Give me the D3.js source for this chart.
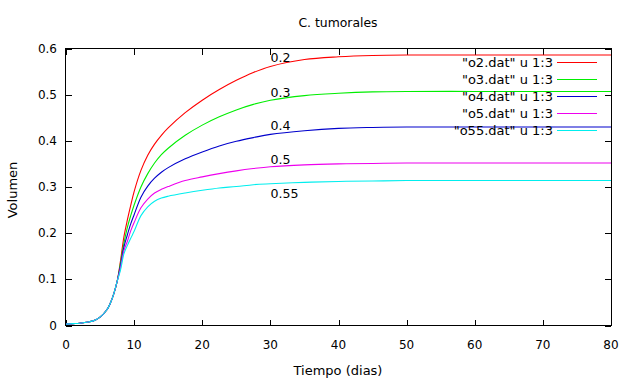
<!DOCTYPE html>
<html><head><meta charset="utf-8">
<script src="https://cdn.jsdelivr.net/npm/d3@7"></script>
<style>
body{margin:0;background:#fff;}
text{font-family:"DejaVu Sans",sans-serif;font-size:12px;fill:#000;}
</style></head>
<body>
<svg id="c" width="629" height="380"></svg>
<script>
const time = [0,1,2,3,4,5,6,6.5,7,7.5,8,8.5,9,9.5,10,11,12,13,14,15,17.5,20,22.5,25,27.5,30,35,40,45,50,60,70,80];
const early = [0.003,0.004,0.005,0.007,0.010,0.018,0.034,0.048,0.068,0.095];
const o2  = early.concat([0.140,0.192,0.228,0.260,0.290,0.336,0.369,0.393,0.412,0.428,0.461,0.488,0.511,0.531,0.548,0.561,0.576,0.582,0.585,0.586,0.586,0.586,0.586]);
const o3  = early.concat([0.135,0.178,0.212,0.238,0.261,0.300,0.329,0.352,0.370,0.384,0.412,0.434,0.452,0.467,0.479,0.488,0.498,0.503,0.506,0.507,0.507,0.507,0.507]);
const o4  = early.concat([0.130,0.170,0.196,0.220,0.240,0.278,0.302,0.319,0.332,0.342,0.361,0.376,0.389,0.399,0.407,0.414,0.422,0.427,0.429,0.430,0.430,0.430,0.430]);
const o5  = early.concat([0.125,0.162,0.182,0.205,0.223,0.255,0.274,0.287,0.295,0.301,0.314,0.322,0.329,0.335,0.340,0.344,0.348,0.350,0.351,0.352,0.352,0.352,0.352]);
const o55 = early.concat([0.120,0.155,0.173,0.189,0.204,0.238,0.257,0.269,0.276,0.280,0.287,0.293,0.298,0.301,0.305,0.307,0.310,0.312,0.313,0.314,0.314,0.314,0.314]);
const seriesNames = ['"o2.dat" u 1:3','"o3.dat" u 1:3','"o4.dat" u 1:3','"o5.dat" u 1:3','"o55.dat" u 1:3'];
const seriesValues = [o2,o3,o4,o5,o55];
const colors = ["#ff0000","#00ee00","#0000cc","#ee00ee","#00eeee"];
const labelTexts = ["0.2","0.3","0.4","0.5","0.55"];
const labelX = [30,30,30,30,30];
const labelY = [0.580,0.505,0.433,0.360,0.285];
const xTicks = [0,10,20,30,40,50,60,70,80];
const yTicks = [0,0.1,0.2,0.3,0.4,0.5,0.6];

const svg = d3.select("#c");
const L=66, R=611, T=48.5, B=325.5;
const x = d3.scaleLinear().domain([0,80]).range([L,R]);
const y = d3.scaleLinear().domain([0,0.6]).range([B,T]);

const tl = 6;
const g = svg.append("g").attr("stroke","#000").attr("stroke-width",1).attr("shape-rendering","crispEdges");
xTicks.forEach(t=>{
  const px = Math.round(x(t))+0.5;
  g.append("line").attr("x1",px).attr("x2",px).attr("y1",B).attr("y2",B-tl);
  g.append("line").attr("x1",px).attr("x2",px).attr("y1",T).attr("y2",T+tl);
});
yTicks.forEach(v=>{
  const py = Math.round(y(v))+0.5;
  g.append("line").attr("x1",L).attr("x2",L+tl).attr("y1",py).attr("y2",py);
  g.append("line").attr("x1",R).attr("x2",R-tl).attr("y1",py).attr("y2",py);
});
g.append("rect").attr("x",L-0.5).attr("y",T).attr("width",R-L+1).attr("height",B-T).attr("fill","none");

xTicks.forEach(t=>{
  svg.append("text").attr("x",x(t)).attr("y",345).attr("text-anchor","middle").attr("dominant-baseline","central").text(d3.format("d")(t));
});
yTicks.forEach(v=>{
  svg.append("text").attr("x",57).attr("y",y(v)).attr("text-anchor","end").attr("dominant-baseline","central").text(v===0?"0":d3.format(".1f")(v));
});

svg.append("text").attr("x",338).attr("y",22).attr("text-anchor","middle").attr("dominant-baseline","central").style("font-size","12.4px").text("C. tumorales");
svg.append("text").attr("x",338).attr("y",370).attr("text-anchor","middle").attr("dominant-baseline","central").style("font-size","13px").text("Tiempo (dias)");
svg.append("text").attr("transform","translate(12,190) rotate(-90)").attr("text-anchor","middle").attr("dominant-baseline","central").style("font-size","13px").text("Volumen");

const line = d3.line().x((d,i)=>x(time[i])).y(d=>y(d)).curve(d3.curveCatmullRom.alpha(0.5));
seriesValues.forEach((vals,k)=>{
  svg.append("path").attr("d",line(vals)).attr("fill","none").attr("stroke",colors[k]).attr("stroke-width",1.1);
  const ly = 62.5 + k*17;
  svg.append("text").attr("x",553).attr("y",ly).attr("text-anchor","end").attr("dominant-baseline","central").style("font-size","13px").text(seriesNames[k]);
  svg.append("line").attr("x1",557).attr("x2",597).attr("y1",ly).attr("y2",ly).attr("stroke",colors[k]).attr("stroke-width",1.1);
});

labelTexts.forEach((t,k)=>{
  svg.append("text").attr("x",x(labelX[k])).attr("y",y(labelY[k])).attr("dominant-baseline","central").style("font-size","12.6px").text(t);
});
</script>
</body></html>
